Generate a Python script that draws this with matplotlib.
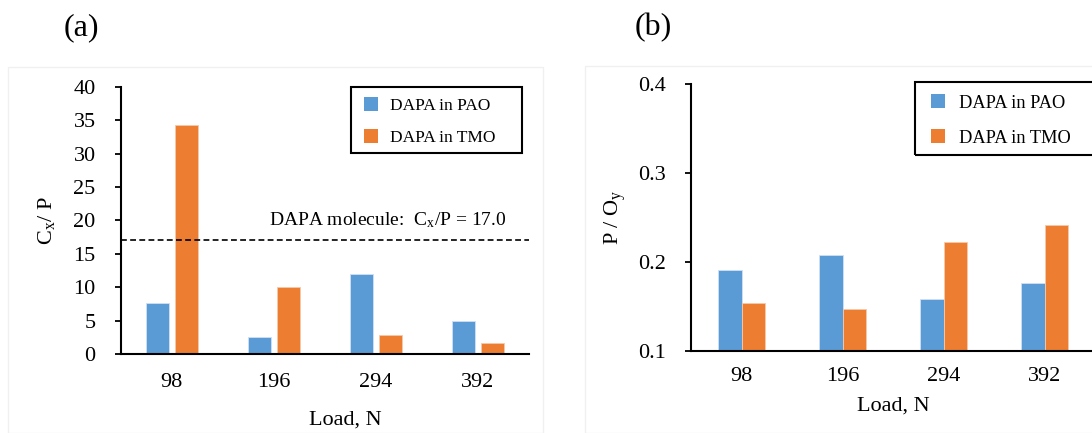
import matplotlib
matplotlib.use("Agg")
import matplotlib.pyplot as plt
import numpy as np
from matplotlib.patches import Rectangle
from matplotlib.lines import Line2D

plt.rcParams['font.family'] = ['Liberation Serif', 'DejaVu Serif']
plt.rcParams['mathtext.fontset'] = 'custom'
plt.rcParams['mathtext.rm'] = 'Liberation Serif'
plt.rcParams['mathtext.it'] = 'Liberation Serif:italic'

# ---- data ----
loads = ["98", "196", "294", "392"]
series_names = ["DAPA in PAO", "DAPA in TMO"]
cx_p_pao = [7.6, 2.6, 12.0, 5.0]
cx_p_tmo = [34.3, 10.1, 2.8, 1.7]
p_oy_pao = [0.191, 0.208, 0.158, 0.176]
p_oy_tmo = [0.154, 0.147, 0.223, 0.242]
molecule_ratio = 17.0

blue = '#5B9BD5'
orange = '#ED7D31'

W, H = 1092, 433
fig = plt.figure(figsize=(W / 100, H / 100), dpi=100)


def fx(px):
    return px / W


def fy(py):
    return 1 - py / H


# faint chart-area frames
fig.patches.append(Rectangle((fx(8), 0), 535 / W, fy(67), transform=fig.transFigure,
                             fill=False, edgecolor='#f0f0f0', lw=1))
fig.patches.append(Rectangle((fx(585), 0), 520 / W, fy(66), transform=fig.transFigure,
                             fill=False, edgecolor='#f0f0f0', lw=1))

x = np.arange(len(loads)) + 0.5


def style_axes(ax, fs, xpad):
    for s in ['top', 'right']:
        ax.spines[s].set_visible(False)
    for s in ['left', 'bottom']:
        ax.spines[s].set_linewidth(1.5)
        ax.spines[s].set_color('black')
    ax.tick_params(axis='y', direction='out', length=4.5, width=1.3, pad=13.5, labelsize=fs)
    ax.tick_params(axis='x', length=0, pad=xpad, labelsize=fs)
    ax.set_xticks(x)
    ax.set_xticklabels(loads)


def add_legend(ax, box, anchor, fs, hl, htp, ls):
    handles = [Line2D([], [], ls='none', marker='s', markersize=9.4, color=c, markeredgewidth=0)
               for c in (blue, orange)]
    leg = ax.legend(handles, series_names, loc='upper left', bbox_to_anchor=anchor,
                    bbox_transform=fig.transFigure, borderaxespad=0, borderpad=0,
                    fontsize=fs, frameon=False, handlelength=hl, handletextpad=htp,
                    labelspacing=ls, numpoints=1)
    x0, y0, x1, y1 = box
    fig.patches.append(Rectangle((fx(x0), fy(y1)), (x1 - x0) / W, (y1 - y0) / H,
                                 transform=fig.transFigure, fill=False,
                                 edgecolor='black', lw=1.5, zorder=5))
    return leg


# ---- panel (a) ----
ax1 = fig.add_axes([fx(120.7), fy(354), 408 / W, (354 - 86.7) / H])
w1 = 0.222
ax1.bar(x - 0.142, cx_p_pao, w1, color=blue, edgecolor='#cfe0f3', linewidth=0.6)
ax1.bar(x + 0.144, cx_p_tmo, w1, color=orange, edgecolor='#f7c9a9', linewidth=0.6)
ax1.axhline(molecule_ratio, color='black', lw=1.2, ls=(0, (3.5, 2)))
ax1.text(3.78, 19.3, r'DAPA molecule:  C$_{\mathrm{x}}$/P = 17.0', ha='right', va='baseline',
         fontsize=14)
ax1.set_xlim(0, 4)
ax1.set_ylim(0, 40)
ax1.set_yticks(range(0, 41, 5))
style_axes(ax1, 16, 13.5)
ax1.set_ylabel(r'C$_{\mathrm{x}}$/ P', fontsize=16)
ax1.yaxis.set_label_coords(-0.156, 0.5)
ax1.set_xlabel('Load, N', fontsize=16)
ax1.xaxis.set_label_coords(0.55, -0.213)
add_legend(ax1, (351, 87.3, 522, 153.3), (fx(357.5), fy(98)), 12.5, 1.59, 0.31, 0.88)
fig.text(fx(81), fy(28), '(a)', ha='center', va='center', fontsize=23)

# ---- panel (b) ----
ax2 = fig.add_axes([fx(691), fy(351), 404 / W, (351 - 84) / H])
w2 = 0.237
ax2.bar(x - w2 / 2, p_oy_pao, w2, color=blue, edgecolor='#cfe0f3', linewidth=0.6)
ax2.bar(x + w2 / 2, p_oy_tmo, w2, color=orange, edgecolor='#f7c9a9', linewidth=0.6)
ax2.set_xlim(0, 4)
ax2.set_ylim(0.1, 0.4)
ax2.set_yticks([0.1, 0.2, 0.3, 0.4])
ax2.set_yticklabels(['0.1', '0.2', '0.3', '0.4'])
style_axes(ax2, 16, 11.5)
ax2.set_ylabel(r'P / O$_{\mathrm{y}}$', fontsize=16)
ax2.yaxis.set_label_coords(-0.156, 0.5)
ax2.set_xlabel('Load, N', fontsize=16)
ax2.xaxis.set_label_coords(0.502, -0.172)
add_legend(ax2, (915, 82.3, 1110, 155), (fx(920), fy(94.7)), 13.2, 1.91, 0.24, 0.99)
fig.text(fx(653), fy(28), '(b)', ha='center', va='center', fontsize=23)

fig.savefig('out.png', dpi=100)
